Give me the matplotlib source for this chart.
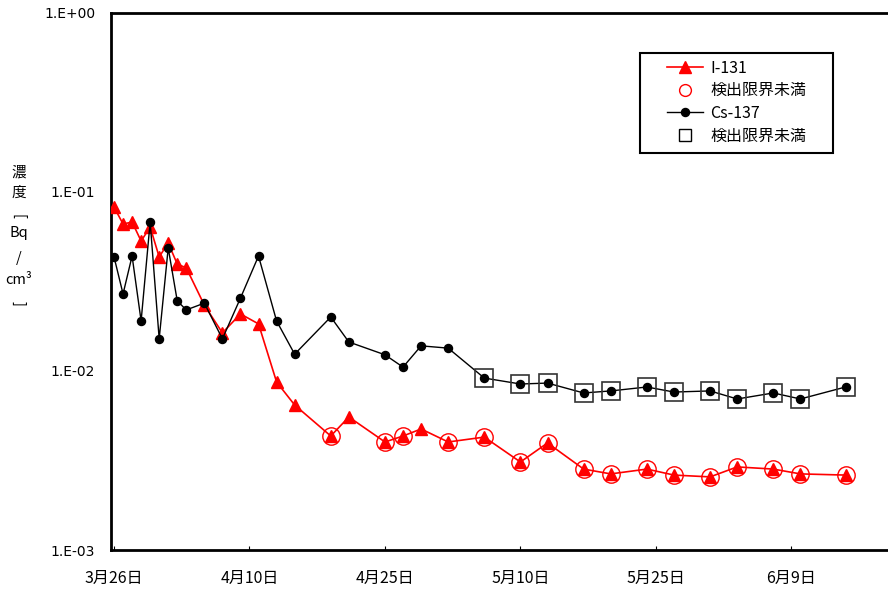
import matplotlib
matplotlib.use("Agg")
import matplotlib.pyplot as plt
from matplotlib.lines import Line2D
from matplotlib.patches import Rectangle

plt.rcParams['font.family'] = ['Noto Sans CJK JP', 'DejaVu Sans']

# Sampling days, counted from 3/26
days = [0, 1, 2, 3, 4, 5, 6, 7, 8, 10, 12, 14, 16, 18, 20, 24, 26, 30, 32, 34,
        37, 41, 45, 48, 52, 55, 59, 62, 66, 69, 73, 76, 81]

# Concentration [Bq/cm3]
i131 = [0.0822, 0.0661, 0.0678, 0.0531, 0.0636, 0.0433, 0.0518, 0.0395, 0.0376,
        0.0233, 0.0163, 0.0208, 0.0183, 0.00867, 0.00645, 0.00433, 0.00553,
        0.00401, 0.00433, 0.00474, 0.00401, 0.00427, 0.00310, 0.00396, 0.00283,
        0.00266, 0.00283, 0.00262, 0.00256, 0.00291, 0.00283, 0.00266, 0.00262]
cs137 = [0.0433, 0.0269, 0.0438, 0.0190, 0.0678, 0.0151, 0.0486, 0.0246, 0.0219,
         0.0239, 0.0151, 0.0255, 0.0438, 0.0190, 0.0124, 0.0200, 0.0145, 0.0123,
         0.0105, 0.0138, 0.0134, 0.00912, 0.00845, 0.00855, 0.00753, 0.00773,
         0.00813, 0.00762, 0.00773, 0.00697, 0.00753, 0.00697, 0.00813]

# Days on which the result was below the detection limit
i131_nd_days = [24, 30, 32, 37, 41, 45, 48, 52, 55, 59, 62, 66, 69, 73, 76, 81]
cs137_nd_days = [41, 45, 48, 52, 55, 59, 62, 66, 69, 73, 76, 81]

tick_days = [0, 15, 30, 45, 60, 75]
tick_labels = ['3月26日', '4月10日', '4月25日', '5月10日', '5月25日', '6月9日']
ytick_vals = [1e-3, 1e-2, 1e-1, 1e0]
ytick_labels = ['1.E-03', '1.E-02', '1.E-01', '1.E+00']

legend_labels = ['I-131', '検出限界未満', 'Cs-137', '検出限界未満']

W, H = 888, 594
fig = plt.figure(figsize=(W / 100, H / 100), dpi=100)
ax = fig.add_axes([110.5 / W, 44 / H, 1 - 110.5 / W, 537.3 / H])

ax.plot(days, i131, color='red', lw=1.2, marker='^', ms=8, zorder=3)
ax.plot(days, cs137, color='black', lw=1.0, marker='o', ms=5.8, zorder=4)

i131_nd = [v for d, v in zip(days, i131) if d in i131_nd_days]
cs137_nd = [v for d, v in zip(days, cs137) if d in cs137_nd_days]
ax.plot(i131_nd_days, i131_nd, ls='none', marker='o', ms=12.5, mfc='none',
        mec='red', mew=1.0, zorder=5)
ax.plot(cs137_nd_days, cs137_nd, ls='none', marker='s', ms=13, mfc='none',
        mec='#333333', mew=1.2, zorder=5)

ax.set_yscale('log')
ax.set_ylim(1e-3, 1e0)
ax.set_xlim(-0.39, 85.7)

ax.set_yticks(ytick_vals)
ax.set_yticklabels(ytick_labels, fontsize=10, family=['DejaVu Sans'])
ax.yaxis.set_minor_locator(matplotlib.ticker.NullLocator())
ax.tick_params(axis='y', length=0, pad=11)

ax.set_xticks(tick_days)
ax.set_xticklabels(tick_labels, fontsize=11.5)
ax.tick_params(axis='x', direction='in', length=3, width=0.8, pad=14)

for s in ['left', 'bottom', 'top']:
    ax.spines[s].set_linewidth(2)
ax.spines['right'].set_visible(False)

# Vertical axis title, one glyph group per line
title_parts = [('濃', 173, 0), ('度', 193, 0), ('[', 216, -90), ('Bq', 233, 0),
               ('/', 258, 0), ('cm³', 280, 0), (']', 303, -90)]
for txt, ypx, rot in title_parts:
    fig.text(19 / W, 1 - ypx / H, txt, ha='center', va='center', rotation=rot,
             fontsize=10.5)

# Legend: entries without frame, box drawn separately underneath
handles = [
    Line2D([], [], color='red', lw=1.2, marker='^', ms=8),
    Line2D([], [], ls='none', marker='o', ms=8.5, mfc='none', mec='red', mew=1.0),
    Line2D([], [], color='black', lw=1.0, marker='o', ms=5.8),
    Line2D([], [], ls='none', marker='s', ms=8.5, mfc='none', mec='black', mew=1.0),
]
fig.patches.append(Rectangle((640 / W, 1 - 153 / H), 193 / W, 100 / H,
                             transform=fig.transFigure, fill=True, fc='white',
                             ec='black', lw=1.5, zorder=9))
leg = fig.legend(handles, legend_labels, loc='center left',
                 bbox_to_anchor=(667 / W, 1 - 102 / H),
                 bbox_transform=fig.transFigure,
                 frameon=False, fontsize=11.5, handlelength=2.25,
                 handletextpad=0.45, labelspacing=0.35, borderpad=0,
                 borderaxespad=0)
leg.set_zorder(10)

fig.savefig('out.png', dpi=100)
